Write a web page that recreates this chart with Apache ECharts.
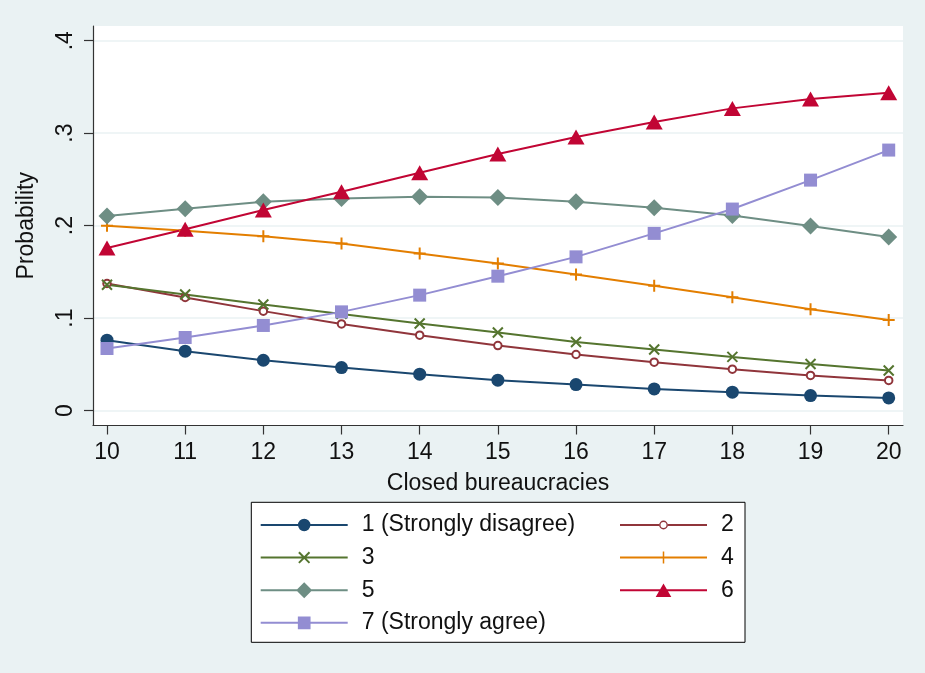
<!DOCTYPE html>
<html>
<head>
<meta charset="utf-8">
<script src="https://cdn.jsdelivr.net/npm/echarts@6/dist/echarts.min.js"></script>
<style>
html,body{margin:0;padding:0;background:#eaf2f3;}
#chart{width:925px;height:673px;}
</style>
</head>
<body>
<div id="chart"></div>
<script>
// ---- data ----
const xValues = [10, 11, 12, 13, 14, 15, 16, 17, 18, 19, 20];
const xTickValues = [10, 11, 12, 13, 14, 15, 16, 17, 18, 19, 20];
const yTickValues = [0, 0.1, 0.2, 0.3, 0.4];
const yTickLabels = ['0', '.1', '.2', '.3', '.4'];

const seriesNames = ['1 (Strongly disagree)', '2', '3', '4', '5', '6', '7 (Strongly agree)'];
const s1 = [0.0761, 0.0642, 0.0544, 0.0465, 0.0393, 0.0328, 0.0281, 0.0234, 0.0198, 0.0162, 0.0136];
const s2 = [0.1374, 0.1223, 0.1075, 0.0937, 0.0815, 0.0703, 0.0606, 0.0523, 0.0447, 0.0379, 0.0325];
const s3 = [0.1360, 0.1255, 0.1147, 0.1045, 0.0942, 0.0844, 0.0742, 0.0660, 0.0580, 0.0504, 0.0433];
const s4 = [0.1998, 0.1945, 0.1886, 0.1807, 0.1699, 0.1591, 0.1472, 0.1349, 0.1226, 0.1096, 0.0980];
const s5 = [0.2103, 0.2182, 0.2258, 0.2294, 0.2312, 0.2305, 0.2258, 0.2193, 0.2110, 0.1995, 0.1876];
const s6 = [0.1757, 0.1960, 0.2168, 0.2366, 0.2572, 0.2774, 0.2958, 0.3120, 0.3268, 0.3369, 0.3437];
const s7 = [0.0671, 0.0790, 0.0920, 0.1067, 0.1248, 0.1453, 0.1662, 0.1916, 0.2179, 0.2492, 0.2817];
const allSeries = [s1, s2, s3, s4, s5, s6, s7];

const colors = ['#1a476f', '#90353b', '#55752f', '#e37e00', '#6e8e84', '#c10534', '#938dd2'];
const symbols = ['circle', 'emptyCircle', 'path://M0,0L10,10M10,0L0,10', 'path://M5,0L5,10M0,5L10,5', 'diamond', 'triangle', 'rect'];
const symbolSizes = [13, 7.5, 10, 12, 17, [17, 15], 13];

// legend key glyphs (line + marker), drawn in an 87 x 18 box
const BOX = 'M0,0L0,0Z M87,18L87,18Z ';
const LINE = 'M0,8L87,8L87,10L0,10Z ';
const legendIcons = [
  BOX + LINE + 'M37.3,9A6.2,6.2 0 1,1 49.7,9A6.2,6.2 0 1,1 37.3,9Z',
  BOX + 'M0,8L39.1,8L39.1,10L0,10Z M47.9,8L87,8L87,10L47.9,10Z ' +
    'M39.1,9A4.4,4.4 0 1,1 47.9,9A4.4,4.4 0 1,1 39.1,9Z M40.5,9A3,3 0 1,0 46.5,9A3,3 0 1,0 40.5,9Z',
  BOX + LINE + 'M38.907,2.993L49.507,13.593L48.093,15.007L37.493,4.407Z M49.507,4.407L38.907,15.007L37.493,13.593L48.093,2.993Z',
  BOX + LINE + 'M42.75,3L44.25,3L44.25,15L42.75,15Z',
  BOX + LINE + 'M43.5,1L51.5,9L43.5,17L35.5,9Z',
  BOX + LINE + 'M43.5,2.3L51.3,15.7L35.7,15.7Z',
  BOX + LINE + 'M37.15,2.65L49.85,2.65L49.85,15.35L37.15,15.35Z'
];

const FONT = "'Liberation Sans', Arial, sans-serif";
const TXT = '#111111';

const series = allSeries.map((vals, i) => {
  const isStroke = i === 1 || i === 2 || i === 3;
  return {
    name: seriesNames[i],
    type: 'line',
    data: xValues.map((x, j) => [x, vals[j]]),
    symbol: symbols[i],
    symbolSize: symbolSizes[i],
    showAllSymbol: true,
    lineStyle: { color: colors[i], width: 2 },
    itemStyle: isStroke
      ? { color: colors[i], borderColor: colors[i], borderWidth: i === 1 ? 1.6 : 2 }
      : { color: colors[i], borderWidth: 0 },
    emphasis: { disabled: true },
    animation: false,
    z: 3
  };
});

const legendCommon = {
  orient: 'vertical',
  padding: 0,
  itemWidth: 87,
  itemHeight: 18,
  itemGap: 9.6,
  selectedMode: false,
  itemStyle: { borderWidth: 0 },
  textStyle: { fontFamily: FONT, fontSize: 23, color: TXT, lineHeight: 23, padding: [0, 0, 0, 9] },
  top: 513.5
};
const legendItem = i => ({ name: seriesNames[i], icon: 'path://' + legendIcons[i] });

const option = {
  backgroundColor: '#eaf2f3',
  animation: false,
  textStyle: { fontFamily: FONT },
  graphic: [{
    type: 'rect',
    shape: { x: 251.3, y: 502.3, width: 493.7, height: 140 },
    style: { fill: '#ffffff', stroke: '#000000', lineWidth: 1 },
    z: 0
  }],
  legend: [
    Object.assign({}, legendCommon, { left: 260.7, data: [0, 2, 4, 6].map(legendItem) }),
    Object.assign({}, legendCommon, { left: 620, data: [1, 3, 5].map(legendItem) })
  ],
  grid: {
    left: 93, right: 22, top: 26, bottom: 247.5,
    show: true, backgroundColor: '#ffffff', borderWidth: 0
  },
  xAxis: {
    type: 'value',
    min: 9.8209, max: 20.1829,
    name: 'Closed bureaucracies',
    nameLocation: 'middle',
    nameGap: 47,
    nameTextStyle: { fontFamily: FONT, fontSize: 23, color: TXT },
    axisLine: { show: true, onZero: false, lineStyle: { color: '#333333', width: 1.2 } },
    axisTick: { show: true, length: 9, customValues: xTickValues, lineStyle: { color: '#333333', width: 1.2 } },
    axisLabel: { customValues: xTickValues, margin: 16, fontFamily: FONT, fontSize: 23, color: TXT },
    splitLine: { show: false }
  },
  yAxis: {
    type: 'value',
    min: -0.0162, max: 0.4159,
    name: 'Probability',
    nameLocation: 'middle',
    nameGap: 54.5,
    nameTextStyle: { fontFamily: FONT, fontSize: 23, color: TXT },
    axisLine: { show: true, onZero: false, lineStyle: { color: '#333333', width: 1.2 } },
    axisTick: { show: true, length: 9, customValues: yTickValues, lineStyle: { color: '#333333', width: 1.2 } },
    axisLabel: {
      customValues: yTickValues, rotate: 90, margin: 16,
      fontFamily: FONT, fontSize: 23, color: TXT,
      formatter: function (v) {
        const k = yTickValues.findIndex(t => Math.abs(t - v) < 1e-9);
        return k >= 0 ? yTickLabels[k] : '';
      }
    },
    splitLine: { show: true, lineStyle: { color: '#eaf2f3', width: 1.6 } }
  },
  series: series
};

const chart = echarts.init(document.getElementById('chart'), null, { renderer: 'canvas' });
chart.setOption(option);
</script>
</body>
</html>
